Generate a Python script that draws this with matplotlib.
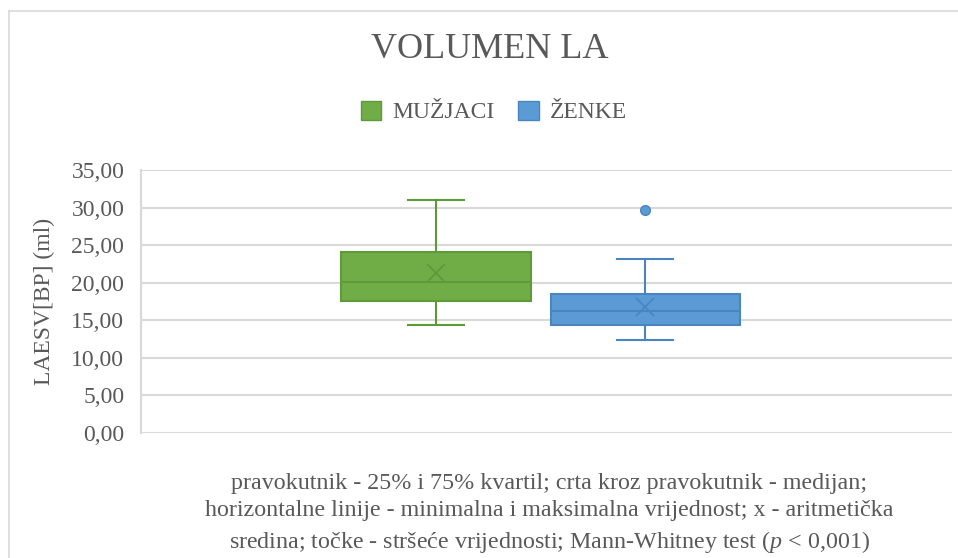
import matplotlib.pyplot as plt
from matplotlib.lines import Line2D
from matplotlib.patches import Patch

plt.rcParams['font.family'] = ['Liberation Serif', 'DejaVu Serif']
plt.rcParams['mathtext.fontset'] = 'custom'
plt.rcParams['mathtext.rm'] = 'Liberation Serif'
plt.rcParams['mathtext.it'] = 'Liberation Serif:italic'

# Data
groups = ['MUŽJACI', 'ŽENKE']
q1 = [17.6, 14.4]
median = [20.1, 16.2]
q3 = [24.1, 18.5]
whis_lo = [14.4, 12.4]
whis_hi = [31.0, 23.2]
means = [21.3, 16.8]
outliers = [[], [29.7]]

fill_colors = ['#70AD47', '#5B9BD5']
edge_colors = ['#5E9A38', '#4A85BF']
text_color = '#595959'
grid_color = '#D9D9D9'

fig = plt.figure(figsize=(9.58, 5.58), dpi=100)
ax = fig.add_axes([141 / 958, 1 - 433 / 558, 811 / 958, 263 / 558])

positions = [-0.136, 0.122]
for i in range(len(groups)):
    stats = [dict(med=median[i], q1=q1[i], q3=q3[i], whislo=whis_lo[i],
                  whishi=whis_hi[i], mean=means[i], fliers=outliers[i])]
    ec = edge_colors[i]
    ax.bxp(stats, positions=[positions[i]], widths=0.234, patch_artist=True,
           showmeans=True, showcaps=True,
           boxprops=dict(facecolor=fill_colors[i], edgecolor=ec, linewidth=1.5),
           medianprops=dict(color=ec, linewidth=1.5),
           whiskerprops=dict(color=ec, linewidth=1.5),
           capprops=dict(color=ec, linewidth=1.5),
           capwidths=0.069,
           meanprops=dict(marker='x', markeredgecolor=ec, markersize=13,
                          markeredgewidth=1.3),
           flierprops=dict(marker='o', markerfacecolor=fill_colors[i],
                           markeredgecolor=ec, markersize=7))

ax.set_xlim(-0.5, 0.5)
ax.set_ylim(0, 35)
ax.set_yticks(range(0, 36, 5))
ax.set_yticklabels([f'{v},00' for v in range(0, 36, 5)])
ax.set_xticks([])
ax.tick_params(axis='y', length=0, pad=12, labelsize=17, labelcolor=text_color)
ax.yaxis.grid(True, color=grid_color, linewidth=1.5)
ax.set_axisbelow(True)
for side in ['top', 'right', 'bottom']:
    ax.spines[side].set_visible(False)
ax.spines['left'].set_color(grid_color)
ax.spines['left'].set_linewidth(1.5)
ax.set_ylabel('LAESV[BP] (ml)', fontsize=17, color=text_color, labelpad=12)

fig.text(490 / 958, 1 - 50 / 558, 'VOLUMEN LA', ha='center', va='center',
         fontsize=26, color=text_color)

handles = [Patch(facecolor=fill_colors[i], edgecolor=edge_colors[i], label=groups[i])
           for i in range(len(groups))]
fig.legend(handles=handles, loc='center', bbox_to_anchor=(494 / 958, 1 - 112 / 558),
           ncol=2, frameon=False, fontsize=17, labelcolor=text_color,
           handlelength=0.85, handleheight=0.85, handletextpad=0.5, columnspacing=1.0)

note = ('pravokutnik - 25% i 75% kvartil; crta kroz pravokutnik - medijan;\n'
        'horizontalne linije - minimalna i maksimalna vrijednost; x - aritmetička\n'
        'sredina; točke - stršeće vrijednosti; Mann-Whitney test ($p$ < 0,001)')
fig.text(549 / 958, 1 - 514 / 558, note, ha='center', va='center',
         fontsize=17.3, color=text_color, linespacing=1.42)

# chart border
fig.add_artist(Line2D([9 / 958, 9 / 958], [0, 1 - 11 / 558], color=grid_color,
                      linewidth=1.2, transform=fig.transFigure))
fig.add_artist(Line2D([9 / 958, 1], [1 - 11 / 558, 1 - 11 / 558], color=grid_color,
                      linewidth=1.2, transform=fig.transFigure))

fig.savefig('out.png', dpi=100)
